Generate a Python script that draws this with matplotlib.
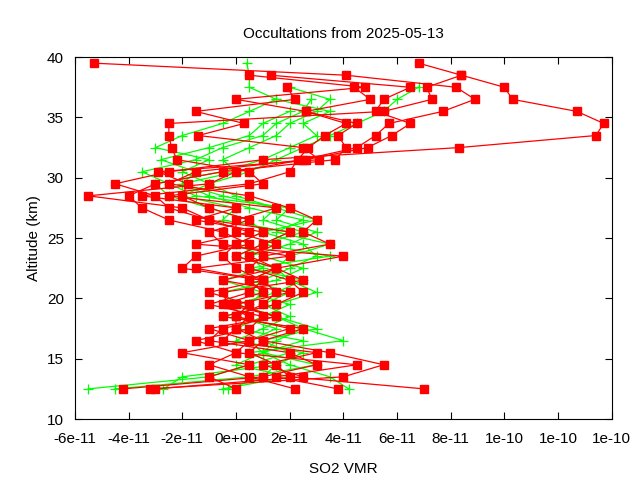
import numpy as np
import matplotlib
matplotlib.use("Agg")
import matplotlib.pyplot as plt

plt.rcParams["font.family"] = "Liberation Sans"

# altitude grid starts at 12.5 km, 1 km step; values in units of 1e-11 VMR
alt_start = 12.5
red_profiles = [
    [7.0, 2.0, 1.5, 0.5, 1.0, 0.0, 0.5, -0.5, 1.0, 0.5, 1.5, 0.0, 1.0, 2.0, -1.0, -2.5, -3.0, -4.5, -2.5, 1.0, 8.3, 13.4, 13.7, 12.7, 10.3, 10.0, 8.4, 6.8],
    [-4.2, 1.0, 3.0, 2.0, -1.0, -0.5, 1.5, 0.0, 2.0, -0.5, 1.5, 4.0, -1.5, 0.5, -1.0, -2.0, -5.5, -1.0, 0.0, 2.5, 4.5, 5.2, 5.7, 7.7, 8.9, 8.2, 4.1, -5.3],
    [-3.2, 4.0, 5.5, 3.5, 1.0, 2.5, -0.5, 1.5, 2.5, 2.0, 0.5, 1.0, 3.5, 2.5, 3.0, 2.0, 0.5, -2.5, -1.5, 2.6, 4.9, 5.8, 6.5, 5.2, 5.5, 6.5, 1.3],
    [2.2, 0.5, -1.0, 0.0, -1.5, 0.5, 1.0, -1.0, 0.5, 1.0, -2.0, -1.5, 0.5, -0.5, -2.5, -3.5, -4.0, -3.0, -0.5, 3.7, 4.1, 3.8, 4.5, 2.6, 0.0, 4.8, 0.5],
    [3.8, 1.5, 4.5, 0.0, 0.5, 2.0, 0.0, 0.5, -1.0, 1.0, 0.0, -0.5, 0.0, 1.0, -1.5, 0.0, -3.5, 0.5, 2.0, 2.3, 2.7, 3.3, 4.1, 2.6, 5.0, 4.4],
    [-3.0, 2.5, 1.0, 3.0, -0.5, 0.0, 0.0, 1.0, 1.5, 1.0, -1.5, 2.0, -0.5, -1.0, 0.5, -1.0, -2.0, -1.8, -2.9, 3.1, 2.5, -1.4, 0.3, -1.5, 2.2, 1.9],
    [0.0, -1.0, 0.5, -2.0, 0.5, -1.0, 1.5, -0.3, -0.5, 2.5, 1.5, 0.5, 1.5, 0.0, 0.0, 1.5, -2.5, 1.0, 0.5, -2.2, -2.4, -2.5, -2.5, 5.5, 7.3, 7.1, 8.4],
]
green_profiles = [
    [-5.5, -1.0, 0.5, 2.0, 1.0, 3.0, 1.5, 0.0, 1.5, 2.5, 0.5, 3.5, 1.0, 2.0, -0.5, 0.0, -2.0, -1.0, 0.5, 1.5, 2.5, 3.5, 4.5, 5.5, 6.0, 6.8],
    [-4.5, 0.5, 3.0, 1.0, 2.5, 0.0, 1.0, 2.0, 0.5, 1.0, 2.0, 3.0, 2.5, 1.0, 0.5, -1.0, -2.5, -3.0, -0.5, 1.0, 2.0, 3.0, 2.5, 3.5, 1.5, 0.5, 0.5, 0.4],
    [-2.7, -2.0, 1.5, 0.5, 4.0, 2.5, -0.5, 1.5, 3.0, 2.0, 1.5, 2.0, 3.5, 1.5, 2.5, 0.5, -1.0, -2.0, 0.0, -0.5, 0.5, 1.5, 2.0, 3.0, 3.5, 2.0],
    [-0.5, 2.0, 0.0, 1.0, 0.5, 1.5, 0.0, 0.5, 1.0, -0.5, 1.0, 0.5, 2.0, 3.0, 1.5, 2.0, -1.5, -2.5, -3.5, -1.5, -0.5, 1.0, 1.5, 2.5, 2.8],
    [4.2, 3.5, 2.0, 1.0, 1.5, 2.5, 1.5, 0.0, -0.5, 1.5, 2.5, 1.0, 0.0, 1.0, 3.0, 1.5, 0.0, -1.0, -2.0, -1.0, -3.0, -2.0, -0.5, 0.5, 1.5],
    [-0.3, 1.0, 1.5, 2.5, 0.0, 1.0, 2.0, 1.0, 2.0, 0.5, 1.5, 0.0, 1.0, 2.5, 1.0, 1.5, -0.5, -2.0, -1.5, -2.8, -1.0, 0.5, 1.0, 2.0],
]
xticks = [-6e-11, -4e-11, -2e-11, 0, 2e-11, 4e-11, 6e-11, 8e-11, 1e-10, 1.2e-10, 1.4e-10]
xticklabels = ["-6e-11", "-4e-11", "-2e-11", "0e+00", "2e-11", "4e-11", "6e-11", "8e-11", "1e-10", "1e-10", "1e-10"]
yticks = [10, 15, 20, 25, 30, 35, 40]

fig = plt.figure(figsize=(6.4, 4.8), dpi=100)
ax = fig.add_axes([0.117, 0.127, 0.839, 0.754])

for p in green_profiles:
    v = np.array(p) * 1e-11
    a = alt_start + np.arange(len(v))
    ax.plot(v, a, color="#00ff00", lw=0.9, marker="+", ms=7, mew=0.9)
for p in red_profiles:
    v = np.array(p) * 1e-11
    a = alt_start + np.arange(len(v))
    ax.plot(v, a, color="#ff0000", lw=0.9, marker="s", ms=5.5)

ax.set_xlim(-6e-11, 1.4e-10)
ax.set_ylim(10, 40)
ax.set_xticks(xticks)
ax.set_xticklabels(xticklabels)
ax.set_yticks(yticks)
ax.tick_params(direction="in", top=True, right=True, labelsize=11, length=5)
ax.tick_params(axis="x", pad=9)
ax.tick_params(axis="y", pad=8)
ax.set_xlabel("SO2 VMR", fontsize=11, labelpad=12)
ax.set_ylabel("Altitude (km)", fontsize=11)
ax.set_title("Occultations from 2025-05-13", fontsize=11, pad=14)
fig.savefig("out.png", dpi=100)
